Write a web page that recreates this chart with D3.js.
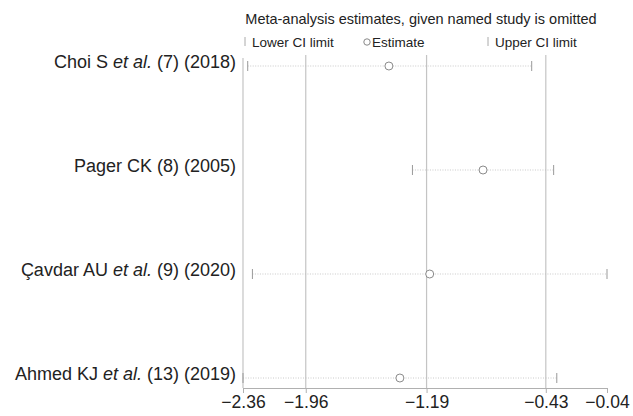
<!DOCTYPE html>
<html lang="en">
<head>
    <meta charset="UTF-8">
    <title>Sensitivity analysis</title>
    <style>
        body { margin: 0; background: #fff; }
        svg { font-family: "Liberation Sans", Arial, sans-serif; }
    </style>
</head>
<script src="https://cdn.jsdelivr.net/npm/d3@7"></script>
<body>
    <div id="graphic"></div>
    <script>
        // studies (author part, italic part, rest of label)
        var authors = ['Choi S', 'Pager CK', 'Çavdar AU', 'Ahmed KJ'];
        var etal = [true, false, true, true];
        var refs = ['(7) (2018)', '(8) (2005)', '(9) (2020)', '(13) (2019)'];
        var lower = [-2.33, -1.28, -2.30, -2.36];
        var estimate = [-1.43, -0.83, -1.17, -1.36];
        var upper = [-0.52, -0.38, -0.04, -0.36];
        var tickValues = [-2.36, -1.96, -1.19, -0.43, -0.04];
        var gridValues = [-1.96, -1.19, -0.43];

        var width = 633, height = 416;
        var x = d3.scaleLinear().domain([-2.36, -0.04]).range([243, 607]);
        var y = d3.scalePoint().domain(d3.range(authors.length)).range([66, 378]);

        var svg = d3.select('#graphic').append('svg')
            .attr('width', width).attr('height', height);

        // grid lines
        svg.selectAll('.grid').data(gridValues).join('line')
            .attr('x1', function (d) { return x(d); })
            .attr('x2', function (d) { return x(d); })
            .attr('y1', 55).attr('y2', 388)
            .attr('stroke', '#c4c4c4').attr('stroke-width', 1.2);
        svg.append('line')
            .attr('x1', x(-2.36)).attr('x2', x(-2.36))
            .attr('y1', 58).attr('y2', 388)
            .attr('stroke', '#c4c4c4').attr('stroke-width', 1.2);

        // axis
        var axis = svg.append('g').attr('transform', 'translate(0,388)')
            .call(d3.axisBottom(x).tickValues(tickValues).tickSize(5).tickSizeOuter(0)
                .tickFormat(function (d) { return d3.format('.2f')(d).replace('-', '\u2212'); }));
        axis.select('.domain').attr('stroke', '#b0b0b0');
        axis.selectAll('.tick line').attr('stroke', '#b0b0b0');
        axis.selectAll('.tick text').attr('font-size', 17.5).attr('fill', '#222')
            .attr('font-family', '"Liberation Sans", Arial, sans-serif')
            .attr('y', 20).attr('dy', null);

        // rows
        var rows = svg.selectAll('.row').data(authors).join('g')
            .attr('transform', function (d, i) { return 'translate(0,' + y(i) + ')'; });

        rows.append('line')
            .attr('x1', function (d, i) { return x(lower[i]); })
            .attr('x2', function (d, i) { return x(upper[i]); })
            .attr('stroke', '#bdbdbd').attr('stroke-width', 0.8)
            .attr('stroke-dasharray', '1,1.5');
        rows.append('line')
            .attr('x1', function (d, i) { return x(lower[i]); })
            .attr('x2', function (d, i) { return x(lower[i]); })
            .attr('y1', -5).attr('y2', 5)
            .attr('stroke', '#999');
        rows.append('line')
            .attr('x1', function (d, i) { return x(upper[i]); })
            .attr('x2', function (d, i) { return x(upper[i]); })
            .attr('y1', -5).attr('y2', 5)
            .attr('stroke', '#999');
        rows.append('circle')
            .attr('cx', function (d, i) { return x(estimate[i]); })
            .attr('r', 4).attr('fill', '#fff')
            .attr('stroke', '#8a8a8a').attr('stroke-width', 1);

        var lab = rows.append('text')
            .attr('x', 236).attr('y', 2).attr('text-anchor', 'end')
            .attr('font-size', 18).attr('fill', '#222');
        lab.append('tspan').text(function (d) { return d + ' '; });
        lab.append('tspan').attr('font-style', 'italic')
            .text(function (d, i) { return etal[i] ? 'et al.' : ''; });
        lab.append('tspan').text(function (d, i) { return (etal[i] ? ' ' : '') + refs[i]; });

        // legend
        svg.append('text').attr('x', 421).attr('y', 24).attr('text-anchor', 'middle')
            .attr('font-size', 14.5).attr('fill', '#222')
            .text('Meta-analysis estimates, given named study is omitted');
        var leg = svg.append('g').attr('font-size', 13.5).attr('fill', '#222');
        leg.append('line').attr('x1', 245).attr('x2', 245).attr('y1', 37).attr('y2', 46).attr('stroke', '#aaa');
        leg.append('text').attr('x', 252).attr('y', 47).text('Lower CI limit');
        leg.append('circle').attr('cx', 367).attr('cy', 42).attr('r', 3.2).attr('fill', '#fff').attr('stroke', '#888');
        leg.append('text').attr('x', 372).attr('y', 47).text('Estimate');
        leg.append('line').attr('x1', 488).attr('x2', 488).attr('y1', 37).attr('y2', 46).attr('stroke', '#aaa');
        leg.append('text').attr('x', 495).attr('y', 47).text('Upper CI limit');
    </script>
</body>
</html>
